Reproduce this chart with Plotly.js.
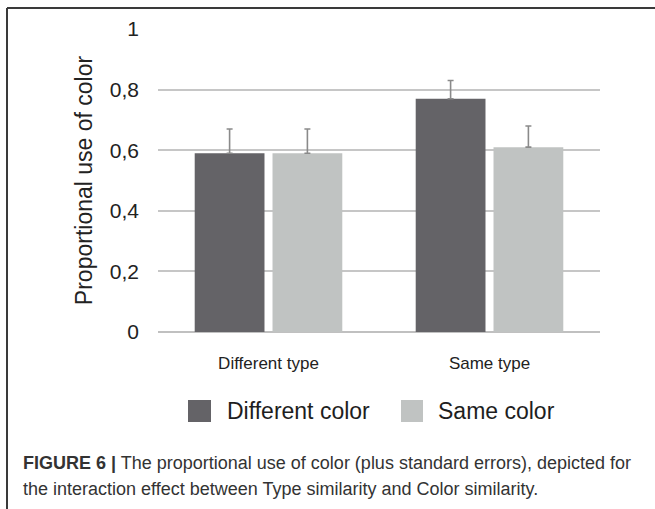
<!DOCTYPE html>
<html>
<head>
<meta charset="utf-8">
<script src="https://cdn.plot.ly/plotly-3.0.1.min.js"></script>
<style>html,body{margin:0;padding:0;background:#fff;}#chart{width:655px;height:509px;}</style>
</head>
<body>
<div id="chart"></div>
<script>
// ---- data ----
const categories = ["Different type", "Same type"];
const seriesNames = ["Different color", "Same color"];
const differentColor = [0.59, 0.77];
const differentColorSE = [0.08, 0.06];
const sameColor = [0.59, 0.61];
const sameColorSE = [0.08, 0.07];
const noLowerError = [0, 0];
const yTickValues = [0, 0.2, 0.4, 0.6, 0.8, 1];
const yTickLabels = ["0", "0,2", "0,4", "0,6", "0,8", "1"];
const yTitle = "Proportional use of color";
const captionLine1 = "<b>FIGURE 6 |</b> The proportional use of color (plus standard errors), depicted for";
const captionLine2 = "the interaction effect between Type similarity and Color similarity.";

// ---- styling ----
const W = 655, H = 509;
const M = {l: 158, r: 55, t: 29, b: 177};
const pw = W - M.l - M.r, ph = H - M.t - M.b;
const px = x => (x - M.l) / pw;          // pixel -> paper x
const py = y => (H - M.b - y) / ph;      // pixel -> paper y
const colors = ["#646367", "#c0c3c2"];
const font = "Liberation Sans, Arial, Helvetica, sans-serif";

const traces = [
  {type: "bar", name: seriesNames[0], x: categories, y: differentColor,
   marker: {color: colors[0]},
   error_y: {type: "data", symmetric: false, array: differentColorSE, arrayminus: noLowerError, visible: true, color: "#8a8a8a", thickness: 1.6, width: 3}},
  {type: "bar", name: seriesNames[1], x: categories, y: sameColor,
   marker: {color: colors[1]},
   error_y: {type: "data", symmetric: false, array: sameColorSE, arrayminus: noLowerError, visible: true, color: "#8a8a8a", thickness: 1.6, width: 3}}
];

// manual legend (large squares like the reference)
const legendItems = [
  {sq: [188, 211], tx: 225},
  {sq: [401, 423], tx: 436}
];
const shapes = [
  // figure frame: top and left edges
  {type: "line", xref: "paper", yref: "paper", x0: px(7), x1: px(660), y0: py(8), y1: py(8), line: {color: "#3a3a3a", width: 2}},
  {type: "line", xref: "paper", yref: "paper", x0: px(7), x1: px(7), y0: py(8), y1: py(515), line: {color: "#3a3a3a", width: 2}}
];
const annotations = [];
legendItems.forEach((it, i) => {
  shapes.push({type: "rect", xref: "paper", yref: "paper", x0: px(it.sq[0]), x1: px(it.sq[1]), y0: py(422), y1: py(400), fillcolor: colors[i], line: {width: 0}});
  annotations.push({xref: "paper", yref: "paper", x: px(it.tx), y: py(411), xanchor: "left", yanchor: "middle", showarrow: false,
    text: seriesNames[i], font: {family: font, size: 23, color: "#1e1e1e"}});
});
annotations.push({xref: "paper", yref: "paper", x: px(21), y: py(463), xanchor: "left", yanchor: "middle", showarrow: false, align: "left",
  text: captionLine1, font: {family: font, size: 18, color: "#333"}});
annotations.push({xref: "paper", yref: "paper", x: px(21), y: py(489), xanchor: "left", yanchor: "middle", showarrow: false, align: "left",
  text: captionLine2, font: {family: font, size: 18, color: "#333"}});

const layout = {
  width: W, height: H,
  margin: M,
  paper_bgcolor: "#fff", plot_bgcolor: "#fff",
  showlegend: false,
  barmode: "group",
  bargap: 0.296,
  bargroupgap: 0.103,
  xaxis: {
    type: "category", range: [-0.5, 1.5],
    showgrid: false, zeroline: false, showline: false,
    ticks: "", tickfont: {family: font, size: 17, color: "#222"},
    ticklabelstandoff: 19, fixedrange: true
  },
  yaxis: {
    range: [0, 1], tickvals: yTickValues, ticktext: yTickLabels,
    showgrid: true, gridcolor: "#c6c6c6", gridwidth: 2,
    zeroline: true, zerolinecolor: "#c0c0c0", zerolinewidth: 2,
    showline: false, ticks: "",
    tickfont: {family: font, size: 21, color: "#222"},
    ticklabelstandoff: 18,
    title: {text: yTitle, font: {family: font, size: 23, color: "#222"}, standoff: 10},
    fixedrange: true
  },
  shapes: shapes,
  annotations: annotations
};

Plotly.newPlot("chart", traces, layout, {displayModeBar: false, staticPlot: true});
</script>
</body>
</html>
